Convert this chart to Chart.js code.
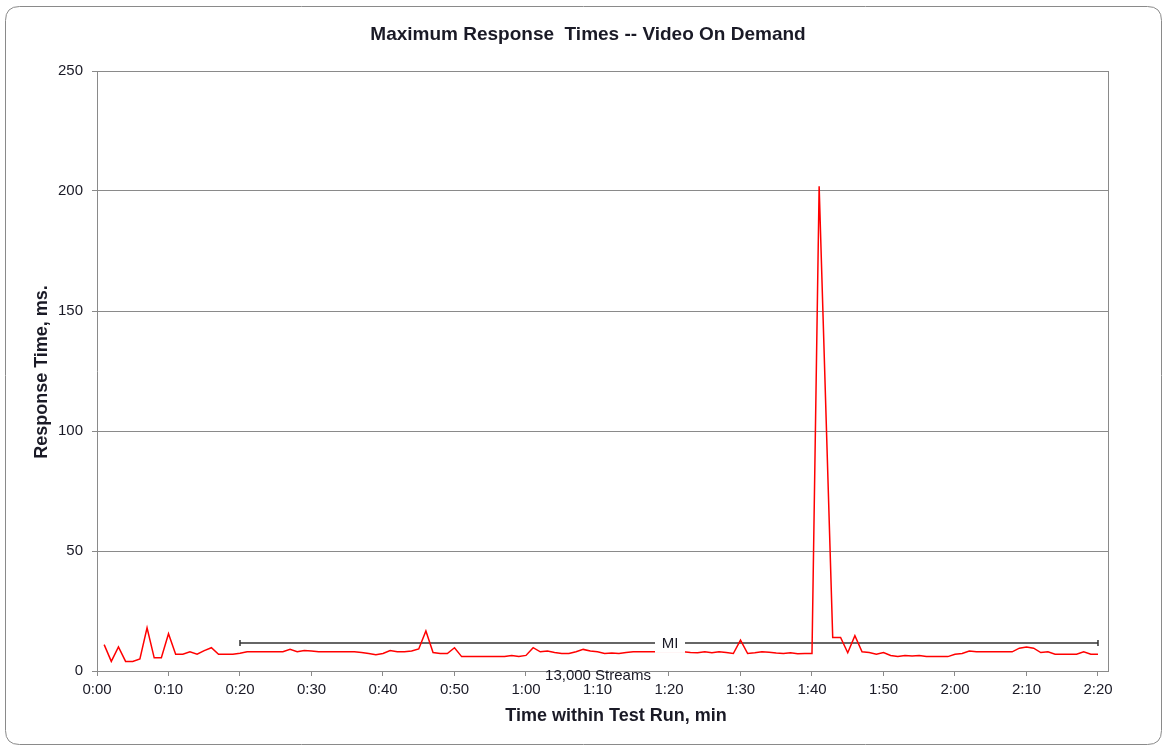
<!DOCTYPE html>
<html>
<head>
<meta charset="utf-8">
<script src="https://cdn.jsdelivr.net/npm/chart.js@4.4.1/dist/chart.umd.min.js"></script>
<style>
  html, body { margin: 0; padding: 0; background: #ffffff; }
  #wrap { width: 1167px; height: 748px; }
</style>
</head>
<body>
<div id="wrap"><canvas id="c" width="1167" height="748"></canvas></div>
<script>
// ---- data (seconds within test run, max response time in ms) ----
const timeSec = [1,2,3,4,5,6,7,8,9,10,11,12,13,14,15,16,17,18,19,20,
  21,22,23,24,25,26,27,28,29,30,31,32,33,34,35,36,37,38,39,40,
  41,42,43,44,45,46,47,48,49,50,51,52,53,54,55,56,57,58,59,60,
  61,62,63,64,65,66,67,68,69,70,71,72,73,74,75,76,77,78,79,80,
  81,82,83,84,85,86,87,88,89,90,91,92,93,94,95,96,97,98,99,100,
  101,102.9,104,105,106,107,108,109,110,111,112,113,114,115,116,117,118,119,120,
  121,122,123,124,125,126,127,128,129,130,131,132,133,134,135,136,137,138,139,140];
const maxResponseMs = [11,4,10,4,4,5,18,5.5,5.5,15.5,7,7,8,7,8.5,9.7,7,7,7,7.4,
  8,8,8,8,8,8,9,8,8.5,8.3,8,8,8,8,8,8,7.7,7.3,6.8,7.3,
  8.5,8,8,8.3,9.2,16.7,7.7,7.3,7.3,9.7,6,6,6,6,6,6,6,6.5,6,6.5,
  9.7,8,8.3,7.7,7.3,7.3,8,9,8.3,8,7.3,7.5,7.3,7.7,8,8,8,8,8,8,
  8,8,7.7,7.6,8,7.6,8,7.7,7.3,12.9,7.3,7.6,8,7.8,7.5,7.3,7.6,7.2,7.3,7.3,
  202,14,14,7.6,14.7,8,7.7,7,7.7,6.5,6,6.5,6.2,6.5,6,6,6,6,7,
  7.3,8.3,8,8,8,8,8,8,9.5,10,9.5,7.7,8,7,7,7,7,8,7,7];
// "MI" (measurement interval) marker bar
const miStartSec = 20;
const miEndSec = 140;
const miLevelMs = 11.7;
const miLabel = "MI";
const streamsLabel = "13,000 Streams";
// axis ticks
const xTickSec = [0,10,20,30,40,50,60,70,80,90,100,110,120,130,140];
const yTickMs = [0,50,100,150,200,250];
const chartTitle = "Maximum Response  Times -- Video On Demand";
const xTitle = "Time within Test Run, min";
const yTitle = "Response Time, ms.";

function fmtTime(s) {
  const m = Math.floor(s / 60);
  const r = Math.round(s - m * 60);
  return m + ":" + (r < 10 ? "0" + r : r);
}

const FONT = "'Liberation Sans', Arial, sans-serif";
const TXT = '#1a1a26';

const decor = {
  id: 'decor',
  beforeDraw(chart) {
    const ctx = chart.ctx;
    ctx.save();
    ctx.fillStyle = '#ffffff';
    ctx.fillRect(0, 0, chart.width, chart.height);
    // rounded outer frame
    const x0 = 5.5, y0 = 6.5, x1 = 1161.5, y1 = 744.5, r = 14;
    ctx.beginPath();
    ctx.moveTo(x0 + r, y0);
    ctx.lineTo(x1 - r, y0);
    ctx.quadraticCurveTo(x1, y0, x1, y0 + r);
    ctx.lineTo(x1, y1 - r);
    ctx.quadraticCurveTo(x1, y1, x1 - r, y1);
    ctx.lineTo(x0 + r, y1);
    ctx.quadraticCurveTo(x0, y1, x0, y1 - r);
    ctx.lineTo(x0, y0 + r);
    ctx.quadraticCurveTo(x0, y0, x0 + r, y0);
    ctx.closePath();
    ctx.strokeStyle = '#8a8a8a';
    ctx.lineWidth = 1;
    ctx.stroke();
    ctx.restore();
  },
  afterDraw(chart) {
    const ctx = chart.ctx;
    const ys = chart.scales.y;
    const a = chart.chartArea;
    ctx.save();
    // right border of plot area
    ctx.strokeStyle = '#8a8a8a';
    ctx.lineWidth = 1;
    ctx.beginPath();
    ctx.moveTo(Math.round(a.right) + 0.5, a.top);
    ctx.lineTo(Math.round(a.right) + 0.5, a.bottom);
    ctx.stroke();
    // MI label box
    const mx = 670, my = ys.getPixelForValue(miLevelMs) + 1;
    ctx.fillStyle = '#ffffff';
    ctx.fillRect(mx - 15, my - 10, 30, 19);
    ctx.fillStyle = TXT;
    ctx.font = '15px ' + FONT;
    ctx.textAlign = 'center';
    ctx.textBaseline = 'middle';
    ctx.fillText(miLabel, mx, my);
    // streams label
    ctx.fillText(streamsLabel, 598, 676);
    // titles
    ctx.font = 'bold 19px ' + FONT;
    ctx.fillText(chartTitle, 588, 35);
    ctx.font = 'bold 18px ' + FONT;
    ctx.fillText(xTitle, 616, 716);
    ctx.translate(42, 372);
    ctx.rotate(-Math.PI / 2);
    ctx.fillText(yTitle, 0, 0);
    ctx.restore();
  }
};

const respData = timeSec.map((t, i) => ({ x: t, y: maxResponseMs[i] }));
const miData = [{ x: miStartSec, y: miLevelMs }, { x: miEndSec, y: miLevelMs }];

new Chart(document.getElementById('c'), {
  type: 'line',
  data: {
    datasets: [
      {
        label: 'MI',
        data: miData,
        borderColor: '#333333',
        borderWidth: 1.5,
        pointStyle: 'line',
        rotation: 90,
        pointRadius: 3,
        pointBorderColor: '#333333',
        pointBorderWidth: 1.5,
        order: 2
      },
      {
        label: 'Max Response',
        data: respData,
        borderColor: '#ff0000',
        borderWidth: 1.5,
        pointRadius: 0,
        tension: 0,
        order: 1
      }
    ]
  },
  options: {
    responsive: false,
    animation: false,
    devicePixelRatio: 1,
    layout: { padding: { top: 71, right: 59, left: 0, bottom: 0 } },
    plugins: { legend: { display: false }, tooltip: { enabled: false }, title: { display: false } },
    scales: {
      x: {
        type: 'linear',
        min: 0,
        max: 141.4,
        afterFit(s) { s.height = 77; },
        afterBuildTicks(s) { s.ticks = xTickSec.map(v => ({ value: v })); },
        ticks: {
          callback: v => fmtTime(v),
          color: TXT,
          font: { family: FONT, size: 15 },
          maxRotation: 0,
          autoSkip: false,
          padding: 5
        },
        grid: { drawOnChartArea: false, drawTicks: true, tickLength: 5, color: '#8a8a8a' },
        border: { color: '#8a8a8a', width: 1 }
      },
      y: {
        min: 0,
        max: 250,
        afterFit(s) { s.width = 97; },
        afterBuildTicks(s) { s.ticks = yTickMs.map(v => ({ value: v })); },
        ticks: {
          color: TXT,
          font: { family: FONT, size: 15 },
          padding: 9
        },
        grid: { color: '#8a8a8a', tickLength: 5, lineWidth: 1 },
        border: { color: '#8a8a8a', width: 1 }
      }
    }
  },
  plugins: [decor]
});
</script>
</body>
</html>
